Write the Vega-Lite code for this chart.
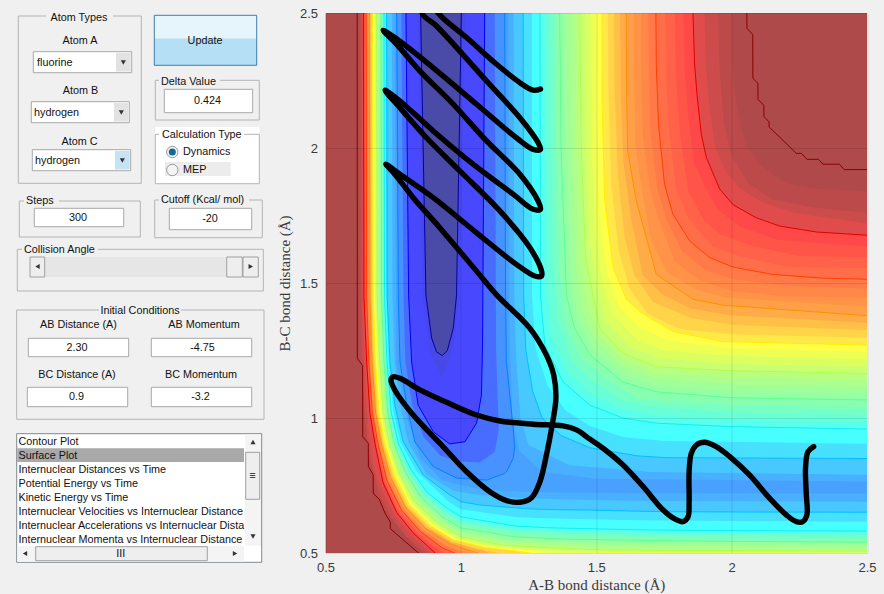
{"$schema":"https://vega.github.io/schema/vega-lite/v6.json","background":"#f0f0f0","padding":{"left":0,"top":7,"right":17,"bottom":4},"bounds":"flush","spacing":25.5,"resolve":{"scale":{"fill":"independent","stroke":"independent","shape":"independent"}},"config":{"view":{"stroke":null},"font":"Liberation Sans"},
"datasets":{
"boxes":[
{"kind":"frame","x0":18.3,"x1":141.3,"y0":15,"y1":182.3},{"kind":"gap","x0":46,"x1":113,"y0":10,"y1":22},
{"kind":"edit","x0":33.3,"x1":131.7,"y0":50.7,"y1":71.7},{"kind":"button","x0":116,"x1":130.7,"y0":52,"y1":70.5},
{"kind":"edit","x0":31.3,"x1":129.3,"y0":100.7,"y1":121.7},{"kind":"button","x0":114,"x1":128.3,"y0":102,"y1":120.5},
{"kind":"edit","x0":32.3,"x1":130.7,"y0":148.7,"y1":169.7},{"kind":"hot","x0":115,"x1":129.7,"y0":150,"y1":168.5},
{"kind":"updateTop","x0":154.3,"x1":256.7,"y0":14.3,"y1":37.5},{"kind":"updateBottom","x0":154.3,"x1":256.7,"y0":37.5,"y1":64.3},{"kind":"updateEdge","x0":154.3,"x1":256.7,"y0":14.3,"y1":64.3},
{"kind":"frame","x0":155.3,"x1":259.3,"y0":79.3,"y1":119},{"kind":"gap","x0":159,"x1":220,"y0":74,"y1":87},{"kind":"edit","x0":164.3,"x1":252.7,"y0":88.3,"y1":111.7},
{"kind":"white","x0":155.3,"x1":259.3,"y0":126,"y1":183},{"kind":"frame","x0":155.3,"x1":259.3,"y0":133.3,"y1":182.7},{"kind":"whitegap","x0":159,"x1":244,"y0":127,"y1":140},{"kind":"row","x0":165,"x1":230.7,"y0":161,"y1":175},
{"kind":"frame","x0":19.3,"x1":140.3,"y0":200,"y1":236},{"kind":"gap","x0":24,"x1":59,"y0":194,"y1":206},{"kind":"edit","x0":34.3,"x1":123.7,"y0":207.3,"y1":225.7},
{"kind":"frame","x0":154.7,"x1":262.3,"y0":199,"y1":236.7},{"kind":"gap","x0":159,"x1":249,"y0":193,"y1":205},{"kind":"edit","x0":169.3,"x1":251.7,"y0":207.3,"y1":228.7},
{"kind":"frame","x0":17.3,"x1":263.3,"y0":248.3,"y1":290},{"kind":"gap","x0":22,"x1":98,"y0":243,"y1":255},{"kind":"trough","x0":30,"x1":258.3,"y0":256,"y1":276},{"kind":"thumb","x0":30,"x1":44.7,"y0":256,"y1":276},{"kind":"thumb","x0":226.7,"x1":242.3,"y0":256,"y1":276},{"kind":"thumb","x0":243,"x1":258.3,"y0":256,"y1":276},
{"kind":"frame","x0":16.7,"x1":264,"y0":309,"y1":418.3},{"kind":"gap","x0":99,"x1":181,"y0":304,"y1":316},
{"kind":"edit","x0":28.3,"x1":128.7,"y0":337.3,"y1":355.7},{"kind":"edit","x0":151.3,"x1":251.7,"y0":337.3,"y1":355.7},{"kind":"edit","x0":27.3,"x1":127.7,"y0":386.3,"y1":405.7},{"kind":"edit","x0":151.3,"x1":251.7,"y0":386.3,"y1":405.7},
{"kind":"list","x0":16.7,"x1":261.7,"y0":432.7,"y1":561.3},{"kind":"selected","x0":17.2,"x1":244,"y0":447.3,"y1":461},{"kind":"bar","x0":245,"x1":261,"y0":433.5,"y1":544.5},{"kind":"bar","x0":17.2,"x1":244,"y0":545,"y1":560.8},{"kind":"thumb","x0":245.7,"x1":259.7,"y0":451.3,"y1":498.3},{"kind":"thumb","x0":35.7,"x1":207.3,"y0":545.7,"y1":559.7}
],
"labelsLeft":[
{"t":"fluorine","x":37,"y":62},{"t":"hydrogen","x":34,"y":112},{"t":"hydrogen","x":35,"y":160},{"t":"Delta Value","x":161,"y":81},{"t":"Calculation Type","x":162,"y":134},{"t":"Dynamics","x":183,"y":151},{"t":"MEP","x":183,"y":169},{"t":"Steps","x":26,"y":200},{"t":"Cutoff (Kcal/ mol)","x":161,"y":199},{"t":"Collision Angle","x":24,"y":249},
{"t":"Contour Plot","x":18.5,"y":441},{"t":"Surface Plot","x":18.5,"y":455},{"t":"Internuclear Distances vs Time","x":18.5,"y":469},{"t":"Potential Energy vs Time","x":18.5,"y":483},{"t":"Kinetic Energy vs Time","x":18.5,"y":497},{"t":"Internuclear Velocities vs Internuclear Distance","x":18.5,"y":511},{"t":"Internuclear Accelerations vs Internuclear Dista","x":18.5,"y":525},{"t":"Internuclear Momenta vs Internuclear Distance","x":18.5,"y":539}
],
"labelsCenter":[
{"t":"Atom Types","x":79,"y":17},{"t":"Atom A","x":80,"y":40},{"t":"Atom B","x":80.5,"y":90},{"t":"Atom C","x":79.5,"y":141},{"t":"Update","x":205,"y":40},{"t":"0.424","x":207.5,"y":100},{"t":"300","x":78,"y":217},{"t":"-20","x":210,"y":218},{"t":"Initial Conditions","x":140,"y":310},{"t":"AB Distance (A)","x":78.5,"y":324},{"t":"AB Momentum","x":204,"y":324},{"t":"2.30","x":77,"y":347},{"t":"-4.75","x":202.5,"y":347},{"t":"BC Distance (A)","x":77,"y":374},{"t":"BC Momentum","x":201,"y":374},{"t":"0.9","x":76.5,"y":396},{"t":"-3.2","x":200.5,"y":396},{"t":"III","x":120.7,"y":552.7},{"t":"≡","x":252.3,"y":474.7}
],
"radios":[{"state":"on","x":172.3,"y":151},{"state":"off","x":172.3,"y":169}],
"arrows":[{"dir":"down","x":123.3,"y":61.5},{"dir":"down","x":121.3,"y":111.5},{"dir":"down","x":122.3,"y":159.5},{"dir":"left","x":37.5,"y":265.5},{"dir":"right","x":250.8,"y":265.5},{"dir":"up","x":253,"y":441},{"dir":"down","x":253,"y":535.5},{"dir":"left","x":25,"y":552.5},{"dir":"right","x":235,"y":552.5}],
"surface":[
{"level":"L13.0","x":0.5,"lo":0.5,"hi":2.5},{"level":"L13.0","x":2.5,"lo":0.5,"hi":2.5},
{"level":"L12","x":0.617,"lo":2.51,"hi":2.5},{"level":"L12","x":0.6175,"lo":1.22,"hi":2.5},{"level":"L12","x":0.637,"lo":1.195,"hi":2.5},{"level":"L12","x":0.6375,"lo":0.93,"hi":2.5},{"level":"L12","x":0.658,"lo":0.907,"hi":2.5},{"level":"L12","x":0.6585,"lo":0.82,"hi":2.5},{"level":"L12","x":0.676,"lo":0.79,"hi":2.5},{"level":"L12","x":0.6765,"lo":0.72,"hi":2.5},{"level":"L12","x":0.698,"lo":0.7,"hi":2.5},{"level":"L12","x":0.72,"lo":0.647,"hi":2.5},{"level":"L12","x":0.739,"lo":0.616,"hi":2.5},{"level":"L12","x":0.7395,"lo":0.59,"hi":2.5},{"level":"L12","x":0.855,"lo":0.49,"hi":2.5},{"level":"L12","x":2.056,"lo":0.5,"hi":2.51},{"level":"L12","x":2.0565,"lo":0.5,"hi":2.444},{"level":"L12","x":2.078,"lo":0.5,"hi":2.42},{"level":"L12","x":2.0785,"lo":0.5,"hi":2.258},{"level":"L12","x":2.097,"lo":0.5,"hi":2.24},{"level":"L12","x":2.0975,"lo":0.5,"hi":2.18},{"level":"L12","x":2.119,"lo":0.5,"hi":2.158},{"level":"L12","x":2.1195,"lo":0.5,"hi":2.116},{"level":"L12","x":2.138,"lo":0.5,"hi":2.097},{"level":"L12","x":2.1385,"lo":0.5,"hi":2.078},{"level":"L12","x":2.239,"lo":0.5,"hi":1.98},{"level":"L12","x":2.258,"lo":0.5,"hi":1.98},{"level":"L12","x":2.278,"lo":0.5,"hi":1.958},{"level":"L12","x":2.321,"lo":0.5,"hi":1.958},{"level":"L12","x":2.337,"lo":0.5,"hi":1.94},{"level":"L12","x":2.398,"lo":0.5,"hi":1.94},{"level":"L12","x":2.416,"lo":0.5,"hi":1.92},{"level":"L12","x":2.5,"lo":0.5,"hi":1.92},
{"level":"L11.75","x":0.623,"lo":2.51,"hi":2.5},{"level":"L11.75","x":0.625,"lo":1.26,"hi":2.5},{"level":"L11.75","x":0.64,"lo":1.1,"hi":2.5},{"level":"L11.75","x":0.655,"lo":0.87,"hi":2.5},{"level":"L11.75","x":0.685,"lo":0.72,"hi":2.5},{"level":"L11.75","x":0.73,"lo":0.64,"hi":2.5},{"level":"L11.75","x":0.78,"lo":0.58,"hi":2.5},{"level":"L11.75","x":0.87,"lo":0.49,"hi":2.5},{"level":"L11.75","x":2.0,"lo":0.5,"hi":2.51},{"level":"L11.75","x":2.003,"lo":0.5,"hi":2.3},{"level":"L11.75","x":2.02,"lo":0.5,"hi":2.15},{"level":"L11.75","x":2.05,"lo":0.5,"hi":2.02},{"level":"L11.75","x":2.1,"lo":0.5,"hi":1.94},{"level":"L11.75","x":2.2,"lo":0.5,"hi":1.87},{"level":"L11.75","x":2.3,"lo":0.5,"hi":1.85},{"level":"L11.75","x":2.5,"lo":0.5,"hi":1.84},
{"level":"L11.5","x":0.63,"lo":2.51,"hi":2.5},{"level":"L11.5","x":0.632,"lo":1.3,"hi":2.5},{"level":"L11.5","x":0.645,"lo":1.0,"hi":2.5},{"level":"L11.5","x":0.665,"lo":0.85,"hi":2.5},{"level":"L11.5","x":0.695,"lo":0.73,"hi":2.5},{"level":"L11.5","x":0.745,"lo":0.63,"hi":2.5},{"level":"L11.5","x":0.8,"lo":0.56,"hi":2.5},{"level":"L11.5","x":0.885,"lo":0.49,"hi":2.5},{"level":"L11.5","x":1.95,"lo":0.5,"hi":2.51},{"level":"L11.5","x":1.955,"lo":0.5,"hi":2.3},{"level":"L11.5","x":1.97,"lo":0.5,"hi":2.1},{"level":"L11.5","x":2.0,"lo":0.5,"hi":1.97},{"level":"L11.5","x":2.06,"lo":0.5,"hi":1.87},{"level":"L11.5","x":2.15,"lo":0.5,"hi":1.81},{"level":"L11.5","x":2.3,"lo":0.5,"hi":1.78},{"level":"L11.5","x":2.5,"lo":0.5,"hi":1.76},
{"level":"L11.25","x":0.635,"lo":2.51,"hi":2.5},{"level":"L11.25","x":0.637,"lo":1.4,"hi":2.5},{"level":"L11.25","x":0.648,"lo":1.1,"hi":2.5},{"level":"L11.25","x":0.66,"lo":0.95,"hi":2.5},{"level":"L11.25","x":0.68,"lo":0.81,"hi":2.5},{"level":"L11.25","x":0.705,"lo":0.74,"hi":2.5},{"level":"L11.25","x":0.755,"lo":0.64,"hi":2.5},{"level":"L11.25","x":0.815,"lo":0.567,"hi":2.5},{"level":"L11.25","x":0.9,"lo":0.49,"hi":2.5},{"level":"L11.25","x":1.9,"lo":0.5,"hi":2.51},{"level":"L11.25","x":1.905,"lo":0.5,"hi":2.31},{"level":"L11.25","x":1.918,"lo":0.5,"hi":2.15},{"level":"L11.25","x":1.94,"lo":0.5,"hi":2.0},{"level":"L11.25","x":1.98,"lo":0.5,"hi":1.91},{"level":"L11.25","x":2.03,"lo":0.5,"hi":1.85},{"level":"L11.25","x":2.11,"lo":0.5,"hi":1.8},{"level":"L11.25","x":2.23,"lo":0.5,"hi":1.76},{"level":"L11.25","x":2.5,"lo":0.5,"hi":1.72},
{"level":"L11","x":0.64,"lo":2.51,"hi":2.5},{"level":"L11","x":0.642,"lo":1.45,"hi":2.5},{"level":"L11","x":0.652,"lo":1.208,"hi":2.5},{"level":"L11","x":0.664,"lo":1.02,"hi":2.5},{"level":"L11","x":0.683,"lo":0.904,"hi":2.5},{"level":"L11","x":0.713,"lo":0.76,"hi":2.5},{"level":"L11","x":0.763,"lo":0.65,"hi":2.5},{"level":"L11","x":0.824,"lo":0.574,"hi":2.5},{"level":"L11","x":0.916,"lo":0.49,"hi":2.5},{"level":"L11","x":1.857,"lo":0.5,"hi":2.51},{"level":"L11","x":1.863,"lo":0.5,"hi":2.315},{"level":"L11","x":1.872,"lo":0.5,"hi":2.199},{"level":"L11","x":1.888,"lo":0.5,"hi":2.05},{"level":"L11","x":1.907,"lo":0.5,"hi":1.964},{"level":"L11","x":1.956,"lo":0.5,"hi":1.848},{"level":"L11","x":2.005,"lo":0.5,"hi":1.79},{"level":"L11","x":2.09,"lo":0.5,"hi":1.742},{"level":"L11","x":2.177,"lo":0.5,"hi":1.711},{"level":"L11","x":2.313,"lo":0.5,"hi":1.689},{"level":"L11","x":2.5,"lo":0.5,"hi":1.677},
{"level":"L10.75","x":0.643,"lo":2.51,"hi":2.5},{"level":"L10.75","x":0.645,"lo":1.45,"hi":2.5},{"level":"L10.75","x":0.654,"lo":1.208,"hi":2.5},{"level":"L10.75","x":0.666,"lo":1.02,"hi":2.5},{"level":"L10.75","x":0.685,"lo":0.904,"hi":2.5},{"level":"L10.75","x":0.716,"lo":0.76,"hi":2.5},{"level":"L10.75","x":0.766,"lo":0.652,"hi":2.5},{"level":"L10.75","x":0.83,"lo":0.575,"hi":2.5},{"level":"L10.75","x":0.94,"lo":0.49,"hi":2.5},{"level":"L10.75","x":1.822,"lo":0.5,"hi":2.51},{"level":"L10.75","x":1.827,"lo":0.5,"hi":2.28},{"level":"L10.75","x":1.84,"lo":0.5,"hi":2.12},{"level":"L10.75","x":1.86,"lo":0.5,"hi":1.95},{"level":"L10.75","x":1.905,"lo":0.5,"hi":1.85},{"level":"L10.75","x":1.95,"lo":0.5,"hi":1.77},{"level":"L10.75","x":2.03,"lo":0.5,"hi":1.71},{"level":"L10.75","x":2.17,"lo":0.5,"hi":1.66},{"level":"L10.75","x":2.5,"lo":0.5,"hi":1.635},
{"level":"L10.5","x":0.646,"lo":2.51,"hi":2.5},{"level":"L10.5","x":0.648,"lo":1.45,"hi":2.5},{"level":"L10.5","x":0.656,"lo":1.208,"hi":2.5},{"level":"L10.5","x":0.668,"lo":1.02,"hi":2.5},{"level":"L10.5","x":0.688,"lo":0.904,"hi":2.5},{"level":"L10.5","x":0.72,"lo":0.765,"hi":2.5},{"level":"L10.5","x":0.77,"lo":0.655,"hi":2.5},{"level":"L10.5","x":0.837,"lo":0.577,"hi":2.5},{"level":"L10.5","x":0.92,"lo":0.51,"hi":2.5},{"level":"L10.5","x":0.958,"lo":0.49,"hi":2.5},{"level":"L10.5","x":1.79,"lo":0.5,"hi":2.51},{"level":"L10.5","x":1.795,"lo":0.5,"hi":2.25},{"level":"L10.5","x":1.81,"lo":0.5,"hi":2.05},{"level":"L10.5","x":1.84,"lo":0.5,"hi":1.84},{"level":"L10.5","x":1.9,"lo":0.5,"hi":1.73},{"level":"L10.5","x":1.96,"lo":0.5,"hi":1.68},{"level":"L10.5","x":2.07,"lo":0.5,"hi":1.64},{"level":"L10.5","x":2.25,"lo":0.5,"hi":1.6},{"level":"L10.5","x":2.5,"lo":0.5,"hi":1.595},
{"level":"L10.25","x":0.648,"lo":2.51,"hi":2.5},{"level":"L10.25","x":0.65,"lo":1.45,"hi":2.5},{"level":"L10.25","x":0.658,"lo":1.208,"hi":2.5},{"level":"L10.25","x":0.67,"lo":1.02,"hi":2.5},{"level":"L10.25","x":0.691,"lo":0.904,"hi":2.5},{"level":"L10.25","x":0.723,"lo":0.767,"hi":2.5},{"level":"L10.25","x":0.775,"lo":0.657,"hi":2.5},{"level":"L10.25","x":0.844,"lo":0.578,"hi":2.5},{"level":"L10.25","x":0.98,"lo":0.49,"hi":2.5},{"level":"L10.25","x":1.755,"lo":0.5,"hi":2.51},{"level":"L10.25","x":1.758,"lo":0.5,"hi":2.27},{"level":"L10.25","x":1.769,"lo":0.5,"hi":2.07},{"level":"L10.25","x":1.795,"lo":0.5,"hi":1.85},{"level":"L10.25","x":1.84,"lo":0.5,"hi":1.74},{"level":"L10.25","x":1.93,"lo":0.5,"hi":1.635},{"level":"L10.25","x":2.03,"lo":0.5,"hi":1.6},{"level":"L10.25","x":2.2,"lo":0.5,"hi":1.56},{"level":"L10.25","x":2.5,"lo":0.5,"hi":1.555},
{"level":"L10","x":0.65,"lo":2.51,"hi":2.5},{"level":"L10","x":0.652,"lo":1.45,"hi":2.5},{"level":"L10","x":0.66,"lo":1.208,"hi":2.5},{"level":"L10","x":0.673,"lo":1.02,"hi":2.5},{"level":"L10","x":0.694,"lo":0.904,"hi":2.5},{"level":"L10","x":0.726,"lo":0.77,"hi":2.5},{"level":"L10","x":0.78,"lo":0.66,"hi":2.5},{"level":"L10","x":0.85,"lo":0.58,"hi":2.5},{"level":"L10","x":0.93,"lo":0.52,"hi":2.5},{"level":"L10","x":1.0,"lo":0.49,"hi":2.5},{"level":"L10","x":1.72,"lo":0.5,"hi":2.51},{"level":"L10","x":1.722,"lo":0.5,"hi":2.297},{"level":"L10","x":1.73,"lo":0.5,"hi":2.088},{"level":"L10","x":1.752,"lo":0.5,"hi":1.866},{"level":"L10","x":1.783,"lo":0.5,"hi":1.755},{"level":"L10","x":1.845,"lo":0.5,"hi":1.656},{"level":"L10","x":1.919,"lo":0.5,"hi":1.594},{"level":"L10","x":2.005,"lo":0.5,"hi":1.559},{"level":"L10","x":2.15,"lo":0.5,"hi":1.532},{"level":"L10","x":2.336,"lo":0.5,"hi":1.518},{"level":"L10","x":2.5,"lo":0.5,"hi":1.514},
{"level":"L9.75","x":0.653,"lo":2.51,"hi":2.5},{"level":"L9.75","x":0.655,"lo":1.45,"hi":2.5},{"level":"L9.75","x":0.663,"lo":1.208,"hi":2.5},{"level":"L9.75","x":0.676,"lo":1.02,"hi":2.5},{"level":"L9.75","x":0.697,"lo":0.904,"hi":2.5},{"level":"L9.75","x":0.73,"lo":0.772,"hi":2.5},{"level":"L9.75","x":0.783,"lo":0.662,"hi":2.5},{"level":"L9.75","x":0.855,"lo":0.582,"hi":2.5},{"level":"L9.75","x":1.02,"lo":0.49,"hi":2.5},{"level":"L9.75","x":1.692,"lo":0.5,"hi":2.51},{"level":"L9.75","x":1.695,"lo":0.5,"hi":2.27},{"level":"L9.75","x":1.7,"lo":0.5,"hi":2.06},{"level":"L9.75","x":1.725,"lo":0.5,"hi":1.85},{"level":"L9.75","x":1.76,"lo":0.5,"hi":1.735},{"level":"L9.75","x":1.815,"lo":0.5,"hi":1.62},{"level":"L9.75","x":1.9,"lo":0.5,"hi":1.55},{"level":"L9.75","x":2.0,"lo":0.5,"hi":1.515},{"level":"L9.75","x":2.2,"lo":0.5,"hi":1.49},{"level":"L9.75","x":2.5,"lo":0.5,"hi":1.48},
{"level":"L9.5","x":0.656,"lo":2.51,"hi":2.5},{"level":"L9.5","x":0.658,"lo":1.45,"hi":2.5},{"level":"L9.5","x":0.666,"lo":1.208,"hi":2.5},{"level":"L9.5","x":0.679,"lo":1.02,"hi":2.5},{"level":"L9.5","x":0.7,"lo":0.904,"hi":2.5},{"level":"L9.5","x":0.733,"lo":0.775,"hi":2.5},{"level":"L9.5","x":0.787,"lo":0.665,"hi":2.5},{"level":"L9.5","x":0.86,"lo":0.585,"hi":2.5},{"level":"L9.5","x":0.945,"lo":0.527,"hi":2.5},{"level":"L9.5","x":1.05,"lo":0.49,"hi":2.5},{"level":"L9.5","x":1.665,"lo":0.5,"hi":2.51},{"level":"L9.5","x":1.667,"lo":0.5,"hi":2.25},{"level":"L9.5","x":1.672,"lo":0.5,"hi":2.04},{"level":"L9.5","x":1.7,"lo":0.5,"hi":1.84},{"level":"L9.5","x":1.735,"lo":0.5,"hi":1.72},{"level":"L9.5","x":1.79,"lo":0.5,"hi":1.58},{"level":"L9.5","x":1.88,"lo":0.5,"hi":1.51},{"level":"L9.5","x":2.0,"lo":0.5,"hi":1.47},{"level":"L9.5","x":2.2,"lo":0.5,"hi":1.45},{"level":"L9.5","x":2.5,"lo":0.5,"hi":1.445},
{"level":"L9.25","x":0.659,"lo":2.51,"hi":2.5},{"level":"L9.25","x":0.661,"lo":1.45,"hi":2.5},{"level":"L9.25","x":0.669,"lo":1.208,"hi":2.5},{"level":"L9.25","x":0.682,"lo":1.02,"hi":2.5},{"level":"L9.25","x":0.703,"lo":0.904,"hi":2.5},{"level":"L9.25","x":0.736,"lo":0.777,"hi":2.5},{"level":"L9.25","x":0.79,"lo":0.667,"hi":2.5},{"level":"L9.25","x":0.865,"lo":0.587,"hi":2.5},{"level":"L9.25","x":1.07,"lo":0.49,"hi":2.5},{"level":"L9.25","x":1.638,"lo":0.5,"hi":2.51},{"level":"L9.25","x":1.64,"lo":0.5,"hi":2.24},{"level":"L9.25","x":1.644,"lo":0.5,"hi":2.01},{"level":"L9.25","x":1.672,"lo":0.5,"hi":1.82},{"level":"L9.25","x":1.705,"lo":0.5,"hi":1.65},{"level":"L9.25","x":1.76,"lo":0.5,"hi":1.54},{"level":"L9.25","x":1.87,"lo":0.5,"hi":1.475},{"level":"L9.25","x":1.98,"lo":0.5,"hi":1.445},{"level":"L9.25","x":2.5,"lo":0.5,"hi":1.412},
{"level":"L9","x":0.662,"lo":2.51,"hi":2.5},{"level":"L9","x":0.664,"lo":1.45,"hi":2.5},{"level":"L9","x":0.672,"lo":1.208,"hi":2.5},{"level":"L9","x":0.685,"lo":1.02,"hi":2.5},{"level":"L9","x":0.706,"lo":0.904,"hi":2.5},{"level":"L9","x":0.74,"lo":0.78,"hi":2.5},{"level":"L9","x":0.795,"lo":0.67,"hi":2.5},{"level":"L9","x":0.87,"lo":0.59,"hi":2.5},{"level":"L9","x":0.96,"lo":0.535,"hi":2.5},{"level":"L9","x":1.0,"lo":0.52,"hi":2.5},{"level":"L9","x":1.095,"lo":0.49,"hi":2.5},{"level":"L9","x":1.611,"lo":0.5,"hi":2.51},{"level":"L9","x":1.6115,"lo":0.5,"hi":2.235},{"level":"L9","x":1.616,"lo":0.5,"hi":1.989},{"level":"L9","x":1.648,"lo":0.5,"hi":1.804},{"level":"L9","x":1.722,"lo":0.5,"hi":1.531},{"level":"L9","x":1.857,"lo":0.5,"hi":1.44},{"level":"L9","x":1.967,"lo":0.5,"hi":1.418},{"level":"L9","x":2.5,"lo":0.5,"hi":1.379},
{"level":"L8.75","x":0.665,"lo":2.51,"hi":2.5},{"level":"L8.75","x":0.667,"lo":1.45,"hi":2.5},{"level":"L8.75","x":0.675,"lo":1.208,"hi":2.5},{"level":"L8.75","x":0.688,"lo":1.02,"hi":2.5},{"level":"L8.75","x":0.71,"lo":0.904,"hi":2.5},{"level":"L8.75","x":0.744,"lo":0.782,"hi":2.5},{"level":"L8.75","x":0.798,"lo":0.672,"hi":2.5},{"level":"L8.75","x":0.875,"lo":0.592,"hi":2.5},{"level":"L8.75","x":1.13,"lo":0.49,"hi":2.5},{"level":"L8.75","x":1.588,"lo":0.5,"hi":2.51},{"level":"L8.75","x":1.59,"lo":0.5,"hi":2.22},{"level":"L8.75","x":1.6,"lo":0.5,"hi":1.95},{"level":"L8.75","x":1.628,"lo":0.5,"hi":1.74},{"level":"L8.75","x":1.672,"lo":0.5,"hi":1.53},{"level":"L8.75","x":1.74,"lo":0.5,"hi":1.46},{"level":"L8.75","x":1.85,"lo":0.5,"hi":1.405},{"level":"L8.75","x":2.0,"lo":0.5,"hi":1.38},{"level":"L8.75","x":2.5,"lo":0.5,"hi":1.352},
{"level":"L8.5","x":0.668,"lo":2.51,"hi":2.5},{"level":"L8.5","x":0.67,"lo":1.45,"hi":2.5},{"level":"L8.5","x":0.678,"lo":1.208,"hi":2.5},{"level":"L8.5","x":0.691,"lo":1.02,"hi":2.5},{"level":"L8.5","x":0.713,"lo":0.904,"hi":2.5},{"level":"L8.5","x":0.748,"lo":0.785,"hi":2.5},{"level":"L8.5","x":0.8,"lo":0.675,"hi":2.5},{"level":"L8.5","x":0.88,"lo":0.595,"hi":2.5},{"level":"L8.5","x":0.965,"lo":0.542,"hi":2.5},{"level":"L8.5","x":1.06,"lo":0.515,"hi":2.5},{"level":"L8.5","x":1.2,"lo":0.49,"hi":2.5},{"level":"L8.5","x":1.566,"lo":0.5,"hi":2.51},{"level":"L8.5","x":1.568,"lo":0.5,"hi":2.2},{"level":"L8.5","x":1.58,"lo":0.5,"hi":1.9},{"level":"L8.5","x":1.605,"lo":0.5,"hi":1.67},{"level":"L8.5","x":1.64,"lo":0.5,"hi":1.53},{"level":"L8.5","x":1.71,"lo":0.5,"hi":1.43},{"level":"L8.5","x":1.85,"lo":0.5,"hi":1.37},{"level":"L8.5","x":2.0,"lo":0.5,"hi":1.345},{"level":"L8.5","x":2.5,"lo":0.5,"hi":1.325},
{"level":"L8.25","x":0.671,"lo":2.51,"hi":2.5},{"level":"L8.25","x":0.673,"lo":1.45,"hi":2.5},{"level":"L8.25","x":0.681,"lo":1.208,"hi":2.5},{"level":"L8.25","x":0.694,"lo":1.02,"hi":2.5},{"level":"L8.25","x":0.716,"lo":0.904,"hi":2.5},{"level":"L8.25","x":0.751,"lo":0.787,"hi":2.5},{"level":"L8.25","x":0.805,"lo":0.677,"hi":2.5},{"level":"L8.25","x":0.885,"lo":0.597,"hi":2.5},{"level":"L8.25","x":1.26,"lo":0.49,"hi":2.5},{"level":"L8.25","x":1.543,"lo":0.5,"hi":2.51},{"level":"L8.25","x":1.545,"lo":0.5,"hi":2.2},{"level":"L8.25","x":1.555,"lo":0.5,"hi":1.87},{"level":"L8.25","x":1.583,"lo":0.5,"hi":1.62},{"level":"L8.25","x":1.623,"lo":0.5,"hi":1.48},{"level":"L8.25","x":1.69,"lo":0.5,"hi":1.385},{"level":"L8.25","x":1.81,"lo":0.5,"hi":1.33},{"level":"L8.25","x":2.0,"lo":0.5,"hi":1.31},{"level":"L8.25","x":2.5,"lo":0.5,"hi":1.297},
{"level":"L8","x":0.674,"lo":2.51,"hi":2.5},{"level":"L8","x":0.676,"lo":1.45,"hi":2.5},{"level":"L8","x":0.684,"lo":1.208,"hi":2.5},{"level":"L8","x":0.698,"lo":1.02,"hi":2.5},{"level":"L8","x":0.72,"lo":0.904,"hi":2.5},{"level":"L8","x":0.755,"lo":0.79,"hi":2.5},{"level":"L8","x":0.81,"lo":0.68,"hi":2.5},{"level":"L8","x":0.89,"lo":0.6,"hi":2.5},{"level":"L8","x":0.97,"lo":0.55,"hi":2.5},{"level":"L8","x":1.09,"lo":0.52,"hi":2.5},{"level":"L8","x":1.2,"lo":0.508,"hi":2.5},{"level":"L8","x":1.32,"lo":0.49,"hi":2.5},{"level":"L8","x":1.521,"lo":0.5,"hi":2.51},{"level":"L8","x":1.5215,"lo":0.5,"hi":2.174},{"level":"L8","x":1.531,"lo":0.5,"hi":1.804},{"level":"L8","x":1.562,"lo":0.5,"hi":1.557},{"level":"L8","x":1.611,"lo":0.5,"hi":1.44},{"level":"L8","x":1.66,"lo":0.5,"hi":1.394},{"level":"L8","x":1.783,"lo":0.5,"hi":1.32},{"level":"L8","x":1.967,"lo":0.5,"hi":1.283},{"level":"L8","x":2.5,"lo":0.5,"hi":1.27},
{"level":"L7.75","x":0.678,"lo":2.51,"hi":2.5},{"level":"L7.75","x":0.68,"lo":1.45,"hi":2.5},{"level":"L7.75","x":0.688,"lo":1.208,"hi":2.5},{"level":"L7.75","x":0.702,"lo":1.02,"hi":2.5},{"level":"L7.75","x":0.724,"lo":0.904,"hi":2.5},{"level":"L7.75","x":0.76,"lo":0.79,"hi":2.5},{"level":"L7.75","x":0.815,"lo":0.682,"hi":2.5},{"level":"L7.75","x":0.895,"lo":0.603,"hi":2.5},{"level":"L7.75","x":0.98,"lo":0.552,"hi":2.5},{"level":"L7.75","x":1.1,"lo":0.522,"hi":2.5},{"level":"L7.75","x":1.25,"lo":0.508,"hi":2.5},{"level":"L7.75","x":1.42,"lo":0.49,"hi":2.5},{"level":"L7.75","x":1.5,"lo":0.5,"hi":2.51},{"level":"L7.75","x":1.503,"lo":0.5,"hi":2.1},{"level":"L7.75","x":1.513,"lo":0.5,"hi":1.75},{"level":"L7.75","x":1.54,"lo":0.5,"hi":1.54},{"level":"L7.75","x":1.585,"lo":0.5,"hi":1.41},{"level":"L7.75","x":1.655,"lo":0.5,"hi":1.34},{"level":"L7.75","x":1.77,"lo":0.5,"hi":1.285},{"level":"L7.75","x":2.0,"lo":0.5,"hi":1.257},{"level":"L7.75","x":2.5,"lo":0.5,"hi":1.244},
{"level":"L7.5","x":0.682,"lo":2.51,"hi":2.5},{"level":"L7.5","x":0.684,"lo":1.45,"hi":2.5},{"level":"L7.5","x":0.692,"lo":1.208,"hi":2.5},{"level":"L7.5","x":0.706,"lo":1.02,"hi":2.5},{"level":"L7.5","x":0.728,"lo":0.904,"hi":2.5},{"level":"L7.5","x":0.765,"lo":0.79,"hi":2.5},{"level":"L7.5","x":0.82,"lo":0.685,"hi":2.5},{"level":"L7.5","x":0.9,"lo":0.607,"hi":2.5},{"level":"L7.5","x":0.985,"lo":0.553,"hi":2.5},{"level":"L7.5","x":1.12,"lo":0.525,"hi":2.5},{"level":"L7.5","x":1.3,"lo":0.508,"hi":2.5},{"level":"L7.5","x":1.48,"lo":0.505,"hi":2.51},{"level":"L7.5","x":1.483,"lo":0.505,"hi":2.0},{"level":"L7.5","x":1.495,"lo":0.505,"hi":1.7},{"level":"L7.5","x":1.52,"lo":0.504,"hi":1.52},{"level":"L7.5","x":1.56,"lo":0.504,"hi":1.385},{"level":"L7.5","x":1.65,"lo":0.503,"hi":1.29},{"level":"L7.5","x":1.75,"lo":0.502,"hi":1.25},{"level":"L7.5","x":2.0,"lo":0.501,"hi":1.23},{"level":"L7.5","x":2.5,"lo":0.5,"hi":1.218},
{"level":"L7.25","x":0.685,"lo":2.51,"hi":2.5},{"level":"L7.25","x":0.687,"lo":1.45,"hi":2.5},{"level":"L7.25","x":0.696,"lo":1.208,"hi":2.5},{"level":"L7.25","x":0.71,"lo":1.02,"hi":2.5},{"level":"L7.25","x":0.732,"lo":0.904,"hi":2.5},{"level":"L7.25","x":0.77,"lo":0.79,"hi":2.5},{"level":"L7.25","x":0.825,"lo":0.687,"hi":2.5},{"level":"L7.25","x":0.905,"lo":0.611,"hi":2.5},{"level":"L7.25","x":0.99,"lo":0.556,"hi":2.5},{"level":"L7.25","x":1.13,"lo":0.527,"hi":2.5},{"level":"L7.25","x":1.35,"lo":0.511,"hi":2.5},{"level":"L7.25","x":1.46,"lo":0.508,"hi":2.51},{"level":"L7.25","x":1.463,"lo":0.508,"hi":2.0},{"level":"L7.25","x":1.475,"lo":0.508,"hi":1.65},{"level":"L7.25","x":1.502,"lo":0.508,"hi":1.49},{"level":"L7.25","x":1.535,"lo":0.508,"hi":1.36},{"level":"L7.25","x":1.62,"lo":0.507,"hi":1.265},{"level":"L7.25","x":1.735,"lo":0.506,"hi":1.22},{"level":"L7.25","x":2.0,"lo":0.505,"hi":1.2},{"level":"L7.25","x":2.5,"lo":0.503,"hi":1.19},
{"level":"L7","x":0.689,"lo":2.51,"hi":2.5},{"level":"L7","x":0.691,"lo":1.45,"hi":2.5},{"level":"L7","x":0.7,"lo":1.208,"hi":2.5},{"level":"L7","x":0.714,"lo":1.02,"hi":2.5},{"level":"L7","x":0.737,"lo":0.904,"hi":2.5},{"level":"L7","x":0.775,"lo":0.79,"hi":2.5},{"level":"L7","x":0.83,"lo":0.69,"hi":2.5},{"level":"L7","x":0.91,"lo":0.615,"hi":2.5},{"level":"L7","x":1.0,"lo":0.56,"hi":2.5},{"level":"L7","x":1.15,"lo":0.53,"hi":2.5},{"level":"L7","x":1.4,"lo":0.515,"hi":2.5},{"level":"L7","x":1.439,"lo":0.514,"hi":2.51},{"level":"L7","x":1.445,"lo":0.514,"hi":2.0},{"level":"L7","x":1.46,"lo":0.513,"hi":1.6},{"level":"L7","x":1.488,"lo":0.513,"hi":1.455},{"level":"L7","x":1.513,"lo":0.512,"hi":1.333},{"level":"L7","x":1.598,"lo":0.511,"hi":1.24},{"level":"L7","x":1.722,"lo":0.51,"hi":1.19},{"level":"L7","x":2.0,"lo":0.509,"hi":1.175},{"level":"L7","x":2.5,"lo":0.507,"hi":1.165},
{"level":"L6.75","x":0.693,"lo":2.51,"hi":2.5},{"level":"L6.75","x":0.695,"lo":1.45,"hi":2.5},{"level":"L6.75","x":0.704,"lo":1.208,"hi":2.5},{"level":"L6.75","x":0.718,"lo":1.02,"hi":2.5},{"level":"L6.75","x":0.741,"lo":0.904,"hi":2.5},{"level":"L6.75","x":0.78,"lo":0.792,"hi":2.5},{"level":"L6.75","x":0.835,"lo":0.695,"hi":2.5},{"level":"L6.75","x":0.915,"lo":0.62,"hi":2.5},{"level":"L6.75","x":1.0,"lo":0.567,"hi":2.5},{"level":"L6.75","x":1.16,"lo":0.537,"hi":2.5},{"level":"L6.75","x":1.42,"lo":0.525,"hi":2.51},{"level":"L6.75","x":1.426,"lo":0.524,"hi":2.0},{"level":"L6.75","x":1.442,"lo":0.523,"hi":1.575},{"level":"L6.75","x":1.469,"lo":0.522,"hi":1.42},{"level":"L6.75","x":1.504,"lo":0.521,"hi":1.31},{"level":"L6.75","x":1.6,"lo":0.52,"hi":1.215},{"level":"L6.75","x":1.72,"lo":0.518,"hi":1.167},{"level":"L6.75","x":2.0,"lo":0.517,"hi":1.15},{"level":"L6.75","x":2.5,"lo":0.515,"hi":1.14},
{"level":"L6.5","x":0.697,"lo":2.51,"hi":2.5},{"level":"L6.5","x":0.699,"lo":1.45,"hi":2.5},{"level":"L6.5","x":0.708,"lo":1.208,"hi":2.5},{"level":"L6.5","x":0.722,"lo":1.02,"hi":2.5},{"level":"L6.5","x":0.745,"lo":0.904,"hi":2.5},{"level":"L6.5","x":0.785,"lo":0.795,"hi":2.5},{"level":"L6.5","x":0.84,"lo":0.7,"hi":2.5},{"level":"L6.5","x":0.92,"lo":0.625,"hi":2.5},{"level":"L6.5","x":1.0,"lo":0.575,"hi":2.5},{"level":"L6.5","x":1.17,"lo":0.545,"hi":2.5},{"level":"L6.5","x":1.4,"lo":0.535,"hi":2.51},{"level":"L6.5","x":1.407,"lo":0.535,"hi":2.0},{"level":"L6.5","x":1.425,"lo":0.534,"hi":1.55},{"level":"L6.5","x":1.45,"lo":0.533,"hi":1.39},{"level":"L6.5","x":1.495,"lo":0.531,"hi":1.29},{"level":"L6.5","x":1.6,"lo":0.529,"hi":1.19},{"level":"L6.5","x":1.72,"lo":0.527,"hi":1.145},{"level":"L6.5","x":2.0,"lo":0.525,"hi":1.125},{"level":"L6.5","x":2.5,"lo":0.523,"hi":1.115},
{"level":"L6.25","x":0.701,"lo":2.51,"hi":2.5},{"level":"L6.25","x":0.703,"lo":1.45,"hi":2.5},{"level":"L6.25","x":0.712,"lo":1.208,"hi":2.5},{"level":"L6.25","x":0.726,"lo":1.02,"hi":2.5},{"level":"L6.25","x":0.75,"lo":0.904,"hi":2.5},{"level":"L6.25","x":0.79,"lo":0.797,"hi":2.5},{"level":"L6.25","x":0.845,"lo":0.705,"hi":2.5},{"level":"L6.25","x":0.925,"lo":0.63,"hi":2.5},{"level":"L6.25","x":1.0,"lo":0.584,"hi":2.5},{"level":"L6.25","x":1.18,"lo":0.552,"hi":2.5},{"level":"L6.25","x":1.382,"lo":0.543,"hi":2.51},{"level":"L6.25","x":1.388,"lo":0.542,"hi":2.0},{"level":"L6.25","x":1.407,"lo":0.541,"hi":1.5},{"level":"L6.25","x":1.435,"lo":0.54,"hi":1.36},{"level":"L6.25","x":1.485,"lo":0.538,"hi":1.262},{"level":"L6.25","x":1.6,"lo":0.537,"hi":1.16},{"level":"L6.25","x":1.72,"lo":0.534,"hi":1.12},{"level":"L6.25","x":2.0,"lo":0.533,"hi":1.1},{"level":"L6.25","x":2.5,"lo":0.532,"hi":1.09},
{"level":"L6","x":0.705,"lo":2.51,"hi":2.5},{"level":"L6","x":0.707,"lo":1.45,"hi":2.5},{"level":"L6","x":0.716,"lo":1.208,"hi":2.5},{"level":"L6","x":0.73,"lo":1.02,"hi":2.5},{"level":"L6","x":0.754,"lo":0.904,"hi":2.5},{"level":"L6","x":0.795,"lo":0.8,"hi":2.5},{"level":"L6","x":0.85,"lo":0.71,"hi":2.5},{"level":"L6","x":0.93,"lo":0.635,"hi":2.5},{"level":"L6","x":1.0,"lo":0.593,"hi":2.5},{"level":"L6","x":1.2,"lo":0.56,"hi":2.5},{"level":"L6","x":1.365,"lo":0.552,"hi":2.51},{"level":"L6","x":1.37,"lo":0.552,"hi":2.0},{"level":"L6","x":1.39,"lo":0.551,"hi":1.455},{"level":"L6","x":1.42,"lo":0.551,"hi":1.333},{"level":"L6","x":1.476,"lo":0.55,"hi":1.235},{"level":"L6","x":1.598,"lo":0.548,"hi":1.133},{"level":"L6","x":1.722,"lo":0.546,"hi":1.097},{"level":"L6","x":2.0,"lo":0.543,"hi":1.075},{"level":"L6","x":2.5,"lo":0.54,"hi":1.067},
{"level":"L5.75","x":0.708,"lo":2.51,"hi":2.5},{"level":"L5.75","x":0.71,"lo":1.45,"hi":2.5},{"level":"L5.75","x":0.719,"lo":1.208,"hi":2.5},{"level":"L5.75","x":0.733,"lo":1.02,"hi":2.5},{"level":"L5.75","x":0.758,"lo":0.904,"hi":2.5},{"level":"L5.75","x":0.8,"lo":0.803,"hi":2.5},{"level":"L5.75","x":0.857,"lo":0.713,"hi":2.5},{"level":"L5.75","x":0.935,"lo":0.643,"hi":2.5},{"level":"L5.75","x":1.0,"lo":0.603,"hi":2.5},{"level":"L5.75","x":1.2,"lo":0.57,"hi":2.5},{"level":"L5.75","x":1.347,"lo":0.563,"hi":2.51},{"level":"L5.75","x":1.352,"lo":0.562,"hi":2.0},{"level":"L5.75","x":1.365,"lo":0.562,"hi":1.53},{"level":"L5.75","x":1.39,"lo":0.561,"hi":1.345},{"level":"L5.75","x":1.443,"lo":0.56,"hi":1.22},{"level":"L5.75","x":1.54,"lo":0.559,"hi":1.14},{"level":"L5.75","x":1.66,"lo":0.556,"hi":1.07},{"level":"L5.75","x":2.0,"lo":0.553,"hi":1.047},{"level":"L5.75","x":2.5,"lo":0.55,"hi":1.04},
{"level":"L5.5","x":0.711,"lo":2.51,"hi":2.5},{"level":"L5.5","x":0.713,"lo":1.45,"hi":2.5},{"level":"L5.5","x":0.722,"lo":1.208,"hi":2.5},{"level":"L5.5","x":0.737,"lo":1.02,"hi":2.5},{"level":"L5.5","x":0.762,"lo":0.904,"hi":2.5},{"level":"L5.5","x":0.805,"lo":0.805,"hi":2.5},{"level":"L5.5","x":0.863,"lo":0.717,"hi":2.5},{"level":"L5.5","x":0.94,"lo":0.65,"hi":2.5},{"level":"L5.5","x":1.0,"lo":0.613,"hi":2.5},{"level":"L5.5","x":1.2,"lo":0.58,"hi":2.5},{"level":"L5.5","x":1.33,"lo":0.575,"hi":2.51},{"level":"L5.5","x":1.335,"lo":0.574,"hi":2.0},{"level":"L5.5","x":1.34,"lo":0.574,"hi":1.6},{"level":"L5.5","x":1.36,"lo":0.573,"hi":1.36},{"level":"L5.5","x":1.41,"lo":0.572,"hi":1.21},{"level":"L5.5","x":1.48,"lo":0.57,"hi":1.14},{"level":"L5.5","x":1.6,"lo":0.568,"hi":1.065},{"level":"L5.5","x":1.72,"lo":0.566,"hi":1.04},{"level":"L5.5","x":2.0,"lo":0.563,"hi":1.02},{"level":"L5.5","x":2.5,"lo":0.56,"hi":1.012},
{"level":"L5.25","x":0.713,"lo":2.51,"hi":2.5},{"level":"L5.25","x":0.715,"lo":1.45,"hi":2.5},{"level":"L5.25","x":0.724,"lo":1.208,"hi":2.5},{"level":"L5.25","x":0.74,"lo":1.02,"hi":2.5},{"level":"L5.25","x":0.766,"lo":0.904,"hi":2.5},{"level":"L5.25","x":0.81,"lo":0.808,"hi":2.5},{"level":"L5.25","x":0.869,"lo":0.721,"hi":2.5},{"level":"L5.25","x":0.945,"lo":0.658,"hi":2.5},{"level":"L5.25","x":1.0,"lo":0.623,"hi":2.5},{"level":"L5.25","x":1.2,"lo":0.59,"hi":2.5},{"level":"L5.25","x":1.311,"lo":0.585,"hi":2.51},{"level":"L5.25","x":1.315,"lo":0.584,"hi":2.0},{"level":"L5.25","x":1.318,"lo":0.584,"hi":1.5},{"level":"L5.25","x":1.335,"lo":0.583,"hi":1.3},{"level":"L5.25","x":1.394,"lo":0.582,"hi":1.17},{"level":"L5.25","x":1.478,"lo":0.58,"hi":1.09},{"level":"L5.25","x":1.6,"lo":0.577,"hi":1.03},{"level":"L5.25","x":1.72,"lo":0.575,"hi":1.01},{"level":"L5.25","x":2.0,"lo":0.573,"hi":0.994},{"level":"L5.25","x":2.5,"lo":0.57,"hi":0.985},
{"level":"L5","x":0.716,"lo":2.51,"hi":2.5},{"level":"L5","x":0.718,"lo":1.45,"hi":2.5},{"level":"L5","x":0.727,"lo":1.208,"hi":2.5},{"level":"L5","x":0.743,"lo":1.02,"hi":2.5},{"level":"L5","x":0.77,"lo":0.904,"hi":2.5},{"level":"L5","x":0.815,"lo":0.81,"hi":2.5},{"level":"L5","x":0.875,"lo":0.725,"hi":2.5},{"level":"L5","x":0.95,"lo":0.665,"hi":2.5},{"level":"L5","x":1.0,"lo":0.634,"hi":2.5},{"level":"L5","x":1.2,"lo":0.6,"hi":2.5},{"level":"L5","x":1.292,"lo":0.595,"hi":2.51},{"level":"L5","x":1.294,"lo":0.595,"hi":1.455},{"level":"L5","x":1.31,"lo":0.594,"hi":1.27},{"level":"L5","x":1.377,"lo":0.592,"hi":1.134},{"level":"L5","x":1.476,"lo":0.59,"hi":1.048},{"level":"L5","x":1.598,"lo":0.587,"hi":1.0},{"level":"L5","x":1.72,"lo":0.585,"hi":0.981},{"level":"L5","x":2.0,"lo":0.583,"hi":0.968},{"level":"L5","x":2.5,"lo":0.581,"hi":0.959},
{"level":"L4.5","x":0.722,"lo":2.51,"hi":2.5},{"level":"L4.5","x":0.724,"lo":1.45,"hi":2.5},{"level":"L4.5","x":0.733,"lo":1.208,"hi":2.5},{"level":"L4.5","x":0.75,"lo":1.03,"hi":2.5},{"level":"L4.5","x":0.778,"lo":0.908,"hi":2.5},{"level":"L4.5","x":0.838,"lo":0.8,"hi":2.5},{"level":"L4.5","x":0.955,"lo":0.69,"hi":2.5},{"level":"L4.5","x":1.0,"lo":0.662,"hi":2.5},{"level":"L4.5","x":1.2,"lo":0.633,"hi":2.5},{"level":"L4.5","x":1.262,"lo":0.631,"hi":2.51},{"level":"L4.5","x":1.263,"lo":0.631,"hi":1.455},{"level":"L4.5","x":1.275,"lo":0.63,"hi":1.26},{"level":"L4.5","x":1.32,"lo":0.629,"hi":1.12},{"level":"L4.5","x":1.385,"lo":0.627,"hi":1.03},{"level":"L4.5","x":1.476,"lo":0.625,"hi":0.97},{"level":"L4.5","x":1.6,"lo":0.622,"hi":0.93},{"level":"L4.5","x":1.75,"lo":0.62,"hi":0.915},{"level":"L4.5","x":2.5,"lo":0.616,"hi":0.905},
{"level":"L4","x":0.726,"lo":2.51,"hi":2.5},{"level":"L4","x":0.728,"lo":1.45,"hi":2.5},{"level":"L4","x":0.738,"lo":1.208,"hi":2.5},{"level":"L4","x":0.756,"lo":1.048,"hi":2.5},{"level":"L4","x":0.787,"lo":0.912,"hi":2.5},{"level":"L4","x":0.861,"lo":0.789,"hi":2.5},{"level":"L4","x":0.959,"lo":0.715,"hi":2.5},{"level":"L4","x":1.0,"lo":0.69,"hi":2.5},{"level":"L4","x":1.07,"lo":0.678,"hi":2.5},{"level":"L4","x":1.205,"lo":0.667,"hi":2.5},{"level":"L4","x":1.23,"lo":0.665,"hi":2.51},{"level":"L4","x":1.232,"lo":0.665,"hi":1.455},{"level":"L4","x":1.24,"lo":0.664,"hi":1.25},{"level":"L4","x":1.265,"lo":0.663,"hi":1.1},{"level":"L4","x":1.3,"lo":0.662,"hi":1.0},{"level":"L4","x":1.37,"lo":0.66,"hi":0.935},{"level":"L4","x":1.476,"lo":0.659,"hi":0.89},{"level":"L4","x":1.65,"lo":0.655,"hi":0.86},{"level":"L4","x":1.76,"lo":0.653,"hi":0.853},{"level":"L4","x":2.0,"lo":0.652,"hi":0.852},{"level":"L4","x":2.5,"lo":0.651,"hi":0.85},
{"level":"L3.5","x":0.745,"lo":2.51,"hi":2.5},{"level":"L3.5","x":0.748,"lo":1.45,"hi":2.5},{"level":"L3.5","x":0.755,"lo":1.208,"hi":2.5},{"level":"L3.5","x":0.775,"lo":1.048,"hi":2.5},{"level":"L3.5","x":0.805,"lo":0.912,"hi":2.5},{"level":"L3.5","x":0.875,"lo":0.79,"hi":2.5},{"level":"L3.5","x":0.975,"lo":0.73,"hi":2.5},{"level":"L3.5","x":1.07,"lo":0.715,"hi":2.5},{"level":"L3.5","x":1.195,"lo":0.706,"hi":2.51},{"level":"L3.5","x":1.197,"lo":0.706,"hi":1.455},{"level":"L3.5","x":1.205,"lo":0.705,"hi":1.208},{"level":"L3.5","x":1.22,"lo":0.704,"hi":1.0},{"level":"L3.5","x":1.25,"lo":0.703,"hi":0.9},{"level":"L3.5","x":1.4,"lo":0.698,"hi":0.825},{"level":"L3.5","x":1.7,"lo":0.693,"hi":0.8},{"level":"L3.5","x":2.5,"lo":0.69,"hi":0.79},
{"level":"L3.2","x":0.755,"lo":2.51,"hi":2.5},{"level":"L3.2","x":0.762,"lo":1.2,"hi":2.5},{"level":"L3.2","x":0.8,"lo":1.0,"hi":2.5},{"level":"L3.2","x":0.85,"lo":0.85,"hi":2.5},{"level":"L3.2","x":0.93,"lo":0.77,"hi":2.5},{"level":"L3.2","x":1.05,"lo":0.74,"hi":2.5},{"level":"L3.2","x":1.175,"lo":0.73,"hi":2.51},{"level":"L3.2","x":1.18,"lo":0.73,"hi":1.3},{"level":"L3.2","x":1.19,"lo":0.73,"hi":1.0},{"level":"L3.2","x":1.215,"lo":0.728,"hi":0.88},{"level":"L3.2","x":1.3,"lo":0.725,"hi":0.8},{"level":"L3.2","x":1.5,"lo":0.722,"hi":0.775},{"level":"L3.2","x":2.5,"lo":0.72,"hi":0.765},
{"level":"L3","x":0.763,"lo":2.51,"hi":2.5},{"level":"L3","x":0.769,"lo":1.455,"hi":2.5},{"level":"L3","x":0.775,"lo":1.208,"hi":2.5},{"level":"L3","x":0.8,"lo":1.048,"hi":2.5},{"level":"L3","x":0.83,"lo":0.912,"hi":2.5},{"level":"L3","x":0.898,"lo":0.82,"hi":2.5},{"level":"L3","x":0.984,"lo":0.778,"hi":2.5},{"level":"L3","x":1.095,"lo":0.77,"hi":2.5},{"level":"L3","x":1.162,"lo":0.795,"hi":2.51},{"level":"L3","x":1.165,"lo":0.797,"hi":1.455},{"level":"L3","x":1.168,"lo":0.8,"hi":1.208},{"level":"L3","x":1.193,"lo":0.85,"hi":0.963},{"level":"L3","x":1.199,"lo":0.89,"hi":0.89},
{"level":"L2.5","x":0.78,"lo":2.51,"hi":2.5},{"level":"L2.5","x":0.788,"lo":1.455,"hi":2.5},{"level":"L2.5","x":0.795,"lo":1.208,"hi":2.5},{"level":"L2.5","x":0.82,"lo":1.048,"hi":2.5},{"level":"L2.5","x":0.862,"lo":0.93,"hi":2.5},{"level":"L2.5","x":0.925,"lo":0.86,"hi":2.5},{"level":"L2.5","x":0.99,"lo":0.84,"hi":2.5},{"level":"L2.5","x":1.07,"lo":0.835,"hi":2.5},{"level":"L2.5","x":1.12,"lo":0.87,"hi":2.5},{"level":"L2.5","x":1.125,"lo":0.875,"hi":2.51},{"level":"L2.5","x":1.13,"lo":0.9,"hi":1.25},{"level":"L2.5","x":1.14,"lo":0.96,"hi":0.96},
{"level":"L2","x":0.797,"lo":2.51,"hi":2.5},{"level":"L2","x":0.807,"lo":1.455,"hi":2.5},{"level":"L2","x":0.818,"lo":1.208,"hi":2.5},{"level":"L2","x":0.842,"lo":1.048,"hi":2.5},{"level":"L2","x":0.898,"lo":0.949,"hi":2.5},{"level":"L2","x":0.959,"lo":0.904,"hi":2.5},{"level":"L2","x":1.015,"lo":0.912,"hi":2.5},{"level":"L2","x":1.058,"lo":0.981,"hi":2.5},{"level":"L2","x":1.076,"lo":1.085,"hi":2.5},{"level":"L2","x":1.08,"lo":1.27,"hi":2.5},{"level":"L2","x":1.088,"lo":2.51,"hi":2.5},
{"level":"L1.5","x":0.84,"lo":2.51,"hi":2.5},{"level":"L1.5","x":0.86,"lo":1.45,"hi":2.5},{"level":"L1.5","x":0.885,"lo":1.25,"hi":2.5},{"level":"L1.5","x":0.93,"lo":1.15,"hi":2.5},{"level":"L1.5","x":0.97,"lo":1.25,"hi":2.5},{"level":"L1.5","x":0.995,"lo":1.45,"hi":2.5},{"level":"L1.5","x":1.015,"lo":2.51,"hi":2.5},
{"level":"L1","x":0.851,"lo":2.51,"hi":2.5},{"level":"L1","x":0.871,"lo":1.455,"hi":2.5},{"level":"L1","x":0.892,"lo":1.296,"hi":2.5},{"level":"L1","x":0.91,"lo":1.245,"hi":2.5},{"level":"L1","x":0.931,"lo":1.231,"hi":2.5},{"level":"L1","x":0.95,"lo":1.25,"hi":2.5},{"level":"L1","x":0.972,"lo":1.333,"hi":2.5},{"level":"L1","x":0.984,"lo":1.455,"hi":2.5},{"level":"L1","x":1.002,"lo":2.51,"hi":2.5}
],
"path":[{"t":1,"a":2.303,"b":0.894},{"t":2,"a":2.282,"b":0.875},{"t":3,"a":2.273,"b":0.814},{"t":4,"a":2.276,"b":0.715},{"t":5,"a":2.278,"b":0.641},{"t":6,"a":2.263,"b":0.616},{"t":7,"a":2.239,"b":0.616},{"t":8,"a":2.202,"b":0.641},{"t":9,"a":2.14,"b":0.703},{"t":10,"a":2.066,"b":0.789},{"t":11,"a":1.993,"b":0.857},{"t":12,"a":1.943,"b":0.894},{"t":13,"a":1.9,"b":0.91},{"t":14,"a":1.87,"b":0.9},{"t":15,"a":1.851,"b":0.869},{"t":16,"a":1.843,"b":0.801},{"t":17,"a":1.843,"b":0.69},{"t":18,"a":1.839,"b":0.634},{"t":19,"a":1.82,"b":0.616},{"t":20,"a":1.79,"b":0.626},{"t":21,"a":1.747,"b":0.659},{"t":22,"a":1.673,"b":0.746},{"t":23,"a":1.599,"b":0.826},{"t":24,"a":1.525,"b":0.888},{"t":25,"a":1.476,"b":0.922},{"t":26,"a":1.427,"b":0.956},{"t":27,"a":1.377,"b":0.971},{"t":28,"a":1.267,"b":0.977},{"t":29,"a":1.144,"b":0.989},{"t":30,"a":1.058,"b":1.011},{"t":31,"a":0.947,"b":1.058},{"t":32,"a":0.849,"b":1.104},{"t":33,"a":0.775,"b":1.147},{"t":34,"a":0.75,"b":1.153},{"t":35,"a":0.742,"b":1.141},{"t":36,"a":0.756,"b":1.104},{"t":37,"a":0.824,"b":1.011},{"t":38,"a":0.923,"b":0.906},{"t":39,"a":1.021,"b":0.801},{"t":40,"a":1.107,"b":0.727},{"t":41,"a":1.169,"b":0.694},{"t":42,"a":1.218,"b":0.688},{"t":43,"a":1.261,"b":0.705},{"t":44,"a":1.292,"b":0.764},{"t":45,"a":1.316,"b":0.863},{"t":46,"a":1.335,"b":0.962},{"t":47,"a":1.351,"b":1.073},{"t":48,"a":1.343,"b":1.159},{"t":49,"a":1.316,"b":1.233},{"t":50,"a":1.255,"b":1.332},{"t":51,"a":1.132,"b":1.456},{"t":52,"a":1.058,"b":1.544},{"t":53,"a":0.922,"b":1.705},{"t":54,"a":0.824,"b":1.816},{"t":55,"a":0.756,"b":1.903},{"t":56,"a":0.723,"b":1.94},{"t":57,"a":0.775,"b":1.903},{"t":58,"a":0.898,"b":1.816},{"t":59,"a":1.058,"b":1.686},{"t":60,"a":1.205,"b":1.569},{"t":61,"a":1.273,"b":1.526},{"t":62,"a":1.298,"b":1.526},{"t":63,"a":1.298,"b":1.544},{"t":64,"a":1.255,"b":1.631},{"t":65,"a":1.144,"b":1.767},{"t":66,"a":0.996,"b":1.915},{"t":67,"a":0.873,"b":2.038},{"t":68,"a":0.775,"b":2.149},{"t":69,"a":0.72,"b":2.214},{"t":70,"a":0.775,"b":2.174},{"t":71,"a":0.898,"b":2.063},{"t":72,"a":1.045,"b":1.94},{"t":73,"a":1.193,"b":1.829},{"t":74,"a":1.267,"b":1.773},{"t":75,"a":1.294,"b":1.773},{"t":76,"a":1.285,"b":1.804},{"t":77,"a":1.218,"b":1.903},{"t":78,"a":1.095,"b":2.026},{"t":79,"a":0.972,"b":2.162},{"t":80,"a":0.849,"b":2.285},{"t":81,"a":0.763,"b":2.384},{"t":82,"a":0.713,"b":2.436},{"t":83,"a":0.756,"b":2.409},{"t":84,"a":0.898,"b":2.297},{"t":85,"a":1.058,"b":2.162},{"t":86,"a":1.205,"b":2.038},{"t":87,"a":1.267,"b":1.995},{"t":88,"a":1.294,"b":1.995},{"t":89,"a":1.285,"b":2.02},{"t":90,"a":1.218,"b":2.112},{"t":91,"a":1.095,"b":2.248},{"t":92,"a":0.996,"b":2.359},{"t":93,"a":0.91,"b":2.452},{"t":94,"a":0.857,"b":2.5},{"t":95,"a":0.885,"b":2.56},{"t":96,"a":0.916,"b":2.5},{"t":97,"a":1.021,"b":2.409},{"t":98,"a":1.132,"b":2.31},{"t":99,"a":1.218,"b":2.242},{"t":100,"a":1.267,"b":2.214},{"t":101,"a":1.294,"b":2.218}]
},
"hconcat":[
{"width":300,"height":540,"layer":[
{"data":{"name":"boxes"},"mark":{"type":"rect","strokeWidth":1},"encoding":{
"x":{"field":"x0","type":"quantitative","scale":{"domain":[0,300],"nice":false,"zero":false},"axis":null},"x2":{"field":"x1"},
"y":{"field":"y0","type":"quantitative","scale":{"domain":[552,12],"nice":false,"zero":false},"axis":null},"y2":{"field":"y1"},
"fill":{"field":"kind","type":"nominal","legend":null,"sort":null,"scale":{"domain":["frame","gap","edit","button","hot","updateTop","updateBottom","updateEdge","white","whitegap","row","trough","thumb","list","selected","bar"],"range":["transparent","#f0f0f0","#ffffff","#e2e2e2","#c4e4f6","#e6f4fb","#b4dff5","transparent","#ffffff","#ffffff","#ececec","#e6e6e6","#eeeeee","#ffffff","#a9a9a9","#f4f4f4"]}},
"stroke":{"field":"kind","type":"nominal","legend":null,"sort":null,"scale":{"domain":["frame","gap","edit","button","hot","updateTop","updateBottom","updateEdge","white","whitegap","row","trough","thumb","list","selected","bar"],"range":["#b4b4b4","transparent","#a8a8a8","transparent","transparent","transparent","transparent","#3c7fb1","transparent","transparent","transparent","transparent","#a0a0a0","#828790","transparent","transparent"]}}
}},
{"data":{"name":"radios"},"mark":{"type":"point","filled":true,"size":130,"stroke":"#9a9a9a","strokeWidth":1,"shape":"circle","opacity":1,"fill":"#f4f4f4"},"encoding":{"x":{"field":"x","type":"quantitative"},"y":{"field":"y","type":"quantitative"}}},
{"data":{"name":"radios"},"transform":[{"filter":"datum.state=='on'"}],"mark":{"type":"point","filled":true,"size":50,"shape":"circle","opacity":1,"color":"#15679b"},"encoding":{"x":{"field":"x","type":"quantitative"},"y":{"field":"y","type":"quantitative"}}},
{"data":{"name":"arrows"},"mark":{"type":"point","filled":true,"size":26,"opacity":1,"color":"#333333"},"encoding":{"x":{"field":"x","type":"quantitative"},"y":{"field":"y","type":"quantitative"},"shape":{"field":"dir","type":"nominal","legend":null,"scale":{"domain":["down","up","left","right"],"range":["triangle-down","triangle-up","triangle-left","triangle-right"]}}}},
{"data":{"name":"labelsLeft"},"mark":{"type":"text","align":"left","baseline":"middle","font":"Liberation Sans","fontSize":10.8,"color":"#111111"},"encoding":{"x":{"field":"x","type":"quantitative"},"y":{"field":"y","type":"quantitative"},"text":{"field":"t"}}},
{"data":{"name":"labelsCenter"},"mark":{"type":"text","align":"center","baseline":"middle","font":"Liberation Sans","fontSize":10.8,"color":"#111111"},"encoding":{"x":{"field":"x","type":"quantitative"},"y":{"field":"y","type":"quantitative"},"text":{"field":"t"}}}
]},
{"width":541.5,"height":540,"layer":[
{"data":{"name":"surface"},"mark":{"type":"area","clip":true,"interpolate":"linear","opacity":1},"encoding":{
"x":{"field":"x","type":"quantitative","scale":{"domain":[0.5,2.5],"nice":false,"zero":false},"axis":{"title":"A-B bond distance (Å)","values":[0.5,1,1.5,2,2.5],"format":"~g","grid":true,"gridColor":"#000000","gridOpacity":0.1,"zindex":1,"domain":false,"tickSize":0,"labelFont":"Liberation Sans","labelFontSize":13,"labelColor":"#3a3a3a","labelPadding":8,"labelFlush":false,"labelOverlap":false,"titleFont":"Liberation Serif","titleFontSize":15,"titleFontWeight":"normal","titleColor":"#3a3a3a","titlePadding":3}},
"y":{"field":"lo","type":"quantitative","scale":{"domain":[0.5,2.5],"nice":false,"zero":false},"axis":{"title":"B-C bond distance (Å)","values":[0.5,1,1.5,2,2.5],"format":"~g","grid":true,"gridColor":"#000000","gridOpacity":0.1,"zindex":1,"domain":false,"tickSize":0,"labelFont":"Liberation Sans","labelFontSize":13,"labelColor":"#3a3a3a","labelPadding":8,"labelFlush":false,"labelOverlap":false,"titleFont":"Liberation Serif","titleFontSize":15,"titleFontWeight":"normal","titleColor":"#3a3a3a","titlePadding":7}},
"y2":{"field":"hi"},
"fill":{"field":"level","type":"nominal","legend":null,"sort":null,"scale":{"domain":["L13.0","L12","L11.75","L11.5","L11.25","L11","L10.75","L10.5","L10.25","L10","L9.75","L9.5","L9.25","L9","L8.75","L8.5","L8.25","L8","L7.75","L7.5","L7.25","L7","L6.75","L6.5","L6.25","L6","L5.75","L5.5","L5.25","L5","L4.5","L4","L3.5","L3.2","L3","L2.5","L2","L1.5","L1"],"range":["#ae4a4a","#b04a4a","#bc4a4a","#cc4c4c","#e04c4c","#ff4848","#ff5448","#ff6248","#ff6e48","#ff7a48","#ff8848","#ff9448","#ffa048","#ffac48","#ffc048","#ffd448","#ffe848","#ffff48","#eeff54","#dcff60","#caff70","#b8ff80","#acff8c","#a0ff98","#94ffa4","#88ffb0","#78ffc4","#68ffd8","#58ffec","#48ffff","#48e0ff","#48c8ff","#48b0ff","#48a0ff","#4892ff","#486cff","#4848ff","#4848e4","#4a4aa8"]}}
}},
{"data":{"name":"surface"},"transform":[{"filter":"indexof(datum.level,'.')<0 && datum.lo!=0.5"}],"mark":{"type":"line","clip":true,"strokeWidth":1},"encoding":{"x":{"field":"x","type":"quantitative"},"y":{"field":"lo","type":"quantitative"},"stroke":{"field":"level","type":"nominal","legend":null,"sort":null,"scale":{"domain":["L12","L11","L10","L9","L8","L7","L6","L5","L4","L3","L2","L1"],"range":["#8b0000","#e00000","#ff4000","#ff9000","#ffef00","#b0ff50","#60ff90","#10f0f0","#00bfff","#0080ff","#0000f0","#0000b0"]}}}},
{"data":{"name":"surface"},"transform":[{"filter":"indexof(datum.level,'.')<0 && datum.hi!=2.5"}],"mark":{"type":"line","clip":true,"strokeWidth":1},"encoding":{"x":{"field":"x","type":"quantitative"},"y":{"field":"hi","type":"quantitative"},"stroke":{"field":"level","type":"nominal","legend":null,"sort":null,"scale":{"domain":["L12","L11","L10","L9","L8","L7","L6","L5","L4","L3","L2","L1"],"range":["#8b0000","#e00000","#ff4000","#ff9000","#ffef00","#b0ff50","#60ff90","#10f0f0","#00bfff","#0080ff","#0000f0","#0000b0"]}}}},
{"data":{"name":"path"},"mark":{"type":"line","clip":true,"color":"#000000","strokeWidth":5.4,"strokeCap":"round","strokeJoin":"round","interpolate":"catmull-rom"},"encoding":{"x":{"field":"a","type":"quantitative"},"y":{"field":"b","type":"quantitative"},"order":{"field":"t","type":"quantitative"}}}
]}
]}
